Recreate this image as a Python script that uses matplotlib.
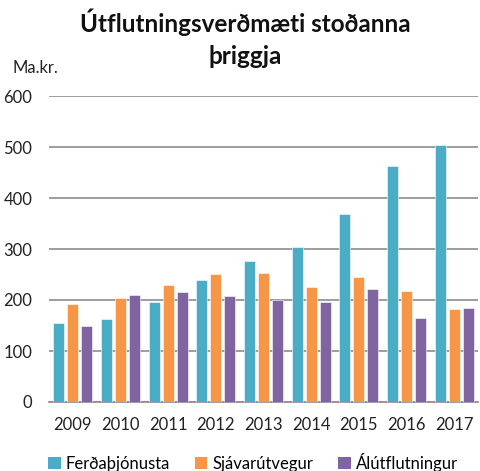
import matplotlib
matplotlib.use("Agg")
import matplotlib.pyplot as plt
from matplotlib.patches import Patch
import numpy as np

plt.rcParams['font.family'] = ['Lato', 'DejaVu Sans']

years = ["2009", "2010", "2011", "2012", "2013", "2014", "2015", "2016", "2017"]
ferdathjonusta = [155, 163, 196, 239, 276, 304, 369, 462, 504]
sjavarutvegur = [193, 204, 230, 251, 252, 225, 245, 217, 183]
alutflutningur = [150, 210, 215, 207, 200, 196, 222, 165, 184]
series_names = ["Ferðaþjónusta", "Sjávarútvegur", "Álútflutningur"]
colors = ["#4BACC6", "#F79646", "#8064A2"]
yticks = [0, 100, 200, 300, 400, 500, 600]

fig = plt.figure(figsize=(4.8, 4.71), dpi=100)
ax = fig.add_axes([49/480, 1-402/471, 429/480, (402-96)/471])

x = np.arange(len(years))
w = 0.23
step = 0.294
for i, (vals, c) in enumerate(zip([ferdathjonusta, sjavarutvegur, alutflutningur], colors)):
    ax.bar(x + (i-1)*step, vals, width=w, color=c, edgecolor='white', linewidth=0.4, zorder=3)

ax.set_xlim(-0.5, len(years)-0.5)
ax.set_ylim(0, 600)
ax.set_yticks(yticks)
ax.set_yticklabels([str(v) for v in yticks], fontsize=12, color='#222222')
ax.set_xticks(x)
ax.set_xticklabels(years, fontsize=12, color='#222222')
ax.tick_params(axis='both', length=0)
ax.tick_params(axis='x', pad=11)
ax.tick_params(axis='y', pad=12)
ax.yaxis.grid(True, color='#8C8C8C', linewidth=1.2, zorder=0)
for s in ['top', 'right', 'left']:
    ax.spines[s].set_visible(False)
ax.spines['bottom'].set_color('#8C8C8C')
ax.spines['bottom'].set_linewidth(1.2)

fig.text(245/480, 1-22/471, "Útflutningsverðmæti stoðanna", ha='center', va='center',
         fontsize=17.5, fontweight='bold', color='#111111')
fig.text(245/480, 1-57/471, "þriggja", ha='center', va='center',
         fontsize=17.5, fontweight='bold', color='#111111')
fig.text(12/480, 1-68/471, "Ma.kr.", ha='left', va='center', fontsize=12, color='#222222')

handles = [Patch(facecolor=c, label=n) for c, n in zip(colors, series_names)]
fig.legend(handles=handles, loc='center', bbox_to_anchor=(253/480, 1-462/471), ncol=3,
           frameon=False, fontsize=12, handlelength=0.75, handleheight=0.75,
           handletextpad=0.3, columnspacing=1.5)

fig.savefig("out.png", dpi=100)
